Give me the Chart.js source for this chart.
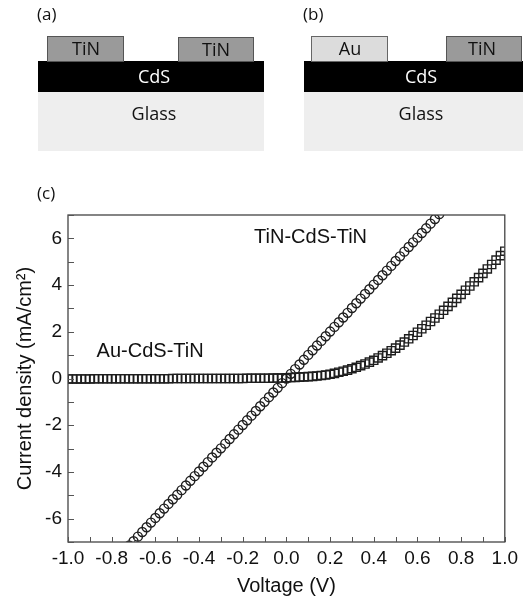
<!DOCTYPE html>
<html>
<head>
<meta charset="utf-8">
<script src="https://cdn.jsdelivr.net/npm/chart.js@4.4.1/dist/chart.umd.min.js"></script>
<style>
  html, body { margin: 0; padding: 0; background: #fff; }
  #wrap { position: relative; width: 523px; height: 602px; overflow: hidden; }
  #myChart { position: absolute; left: 0; top: 0; }
  .lbl { position: absolute; font-family: "Open Sans", sans-serif; font-size: 17px; color: #111; }
  .blk { position: absolute; box-sizing: border-box; }
  .txt { position: absolute; font-family: "Open Sans", sans-serif; font-size: 18px; line-height: 20px;
         transform: translate(-50%, -50%); white-space: nowrap; }
  .tin { background: #9a9a9a; border: 1px solid #555; }
  .au { background: #dcdcdc; border: 1px solid #666; }
  .cds { background: #000; }
  .glass { background: #eeeeee; }
</style>
</head>
<body>
<div id="wrap">
  <canvas id="myChart" width="523" height="602"></canvas>

  <!-- (a) TiN / CdS / TiN -->
  <div class="lbl" style="left:37px; top:2px;">(a)</div>
  <div class="blk glass" style="left:38px; top:92px; width:226px; height:59px;"></div>
  <div class="blk cds" style="left:38px; top:61px; width:226px; height:31px;"></div>
  <div class="blk tin" style="left:47px; top:36px; width:77px; height:26px;"></div>
  <div class="blk tin" style="left:178px; top:37px; width:76px; height:25px;"></div>
  <div class="txt" style="left:86px; top:48px; color:#111;">TiN</div>
  <div class="txt" style="left:216px; top:49px; color:#111;">TiN</div>
  <div class="txt" style="left:154px; top:76px; color:#fff;">CdS</div>
  <div class="txt" style="left:154px; top:113px; color:#111;">Glass</div>

  <!-- (b) Au / CdS / TiN -->
  <div class="lbl" style="left:303px; top:2px;">(b)</div>
  <div class="blk glass" style="left:304px; top:92px; width:230px; height:59px;"></div>
  <div class="blk cds" style="left:304px; top:61px; width:230px; height:31px;"></div>
  <div class="blk au" style="left:311px; top:36px; width:77px; height:26px;"></div>
  <div class="blk tin" style="left:446px; top:36px; width:76px; height:26px;"></div>
  <div class="txt" style="left:350px; top:48px; color:#111;">Au</div>
  <div class="txt" style="left:482px; top:48px; color:#111;">TiN</div>
  <div class="txt" style="left:421px; top:76px; color:#fff;">CdS</div>
  <div class="txt" style="left:421px; top:113px; color:#111;">Glass</div>

  <div class="lbl" style="left:37px; top:181px;">(c)</div>
</div>

<script>
// Dữ liệu: điện áp (V)
var voltage = [
  -1.00, -0.98, -0.96, -0.94, -0.92, -0.90, -0.88, -0.86, -0.84, -0.82,
  -0.80, -0.78, -0.76, -0.74, -0.72, -0.70, -0.68, -0.66, -0.64, -0.62,
  -0.60, -0.58, -0.56, -0.54, -0.52, -0.50, -0.48, -0.46, -0.44, -0.42,
  -0.40, -0.38, -0.36, -0.34, -0.32, -0.30, -0.28, -0.26, -0.24, -0.22,
  -0.20, -0.18, -0.16, -0.14, -0.12, -0.10, -0.08, -0.06, -0.04, -0.02,
  0.00, 0.02, 0.04, 0.06, 0.08, 0.10, 0.12, 0.14, 0.16, 0.18,
  0.20, 0.22, 0.24, 0.26, 0.28, 0.30, 0.32, 0.34, 0.36, 0.38,
  0.40, 0.42, 0.44, 0.46, 0.48, 0.50, 0.52, 0.54, 0.56, 0.58,
  0.60, 0.62, 0.64, 0.66, 0.68, 0.70, 0.72, 0.74, 0.76, 0.78,
  0.80, 0.82, 0.84, 0.86, 0.88, 0.90, 0.92, 0.94, 0.96, 0.98,
  1.00
];

// Mật độ dòng TiN-CdS-TiN (mA/cm2) - vòng tròn
var currentTiN = [
  -9.95, -9.75, -9.55, -9.35, -9.15, -8.96, -8.76, -8.56, -8.36, -8.16,
  -7.96, -7.76, -7.56, -7.36, -7.16, -6.97, -6.77, -6.57, -6.37, -6.17,
  -5.97, -5.77, -5.57, -5.37, -5.17, -4.98, -4.78, -4.58, -4.38, -4.18,
  -3.98, -3.78, -3.58, -3.38, -3.18, -2.99, -2.79, -2.59, -2.39, -2.19,
  -1.99, -1.79, -1.59, -1.39, -1.19, -1.00, -0.80, -0.60, -0.40, -0.20,
  0.00, 0.20, 0.40, 0.60, 0.80, 1.01, 1.21, 1.41, 1.61, 1.81,
  2.01, 2.21, 2.41, 2.61, 2.81, 3.02, 3.22, 3.42, 3.62, 3.82,
  4.02, 4.22, 4.42, 4.62, 4.82, 5.03, 5.23, 5.43, 5.63, 5.83,
  6.03, 6.23, 6.43, 6.63, 6.83, 7.04, 7.24, 7.44, 7.64, 7.84,
  8.04, 8.24, 8.44, 8.64, 8.84, 9.05, 9.25, 9.45, 9.65, 9.85,
  10.05
];

// Mật độ dòng Au-CdS-TiN (mA/cm2) - hình vuông
var currentAu = [
  -0.02, -0.02, -0.02, -0.02, -0.02, -0.02, -0.01, -0.01, -0.01, -0.01,
  -0.01, -0.01, -0.01, -0.01, -0.01, -0.01, -0.01, -0.01, -0.01, -0.01,
  -0.01, -0.01, -0.01, -0.01, 0.00, 0.00, 0.00, 0.00, 0.00, 0.00,
  0.00, 0.00, 0.00, 0.00, 0.00, 0.00, 0.00, 0.00, 0.00, 0.00,
  0.00, 0.01, 0.01, 0.01, 0.01, 0.01, 0.01, 0.02, 0.02, 0.02,
  0.03, 0.04, 0.05, 0.06, 0.07, 0.08, 0.09, 0.11, 0.13, 0.15,
  0.18, 0.22, 0.27, 0.31, 0.36, 0.42, 0.48, 0.55, 0.62, 0.70,
  0.78, 0.88, 0.98, 1.08, 1.19, 1.30, 1.43, 1.56, 1.70, 1.84,
  1.98, 2.13, 2.28, 2.44, 2.59, 2.75, 2.92, 3.09, 3.26, 3.43,
  3.60, 3.78, 3.96, 4.14, 4.32, 4.50, 4.69, 4.88, 5.07, 5.26,
  5.45
];

// Nhãn chú thích trên biểu đồ
var curveLabels = ['TiN-CdS-TiN', 'Au-CdS-TiN'];

var FONT = "'Liberation Sans', Arial, sans-serif";
var INK = '#1e1e1e';

function toPoints(ys) {
  return voltage.map(function (v, i) {
    return { x: v, y: ys[i] };
  });
}

// Plugin: khung, vạch chia hướng vào trong, chữ chú thích
var framePlugin = {
  id: 'frame',
  afterDatasetsDraw: function (chart) {
    var ctx = chart.ctx;
    var a = chart.chartArea;
    var xs = chart.scales.x;
    var ys = chart.scales.y;
    ctx.save();
    ctx.strokeStyle = '#444';
    ctx.lineWidth = 1.3;
    ctx.strokeRect(a.left, a.top, a.right - a.left, a.bottom - a.top);

    ctx.lineWidth = 1;
    ctx.strokeStyle = '#555';
    ctx.beginPath();
    for (var i = -10; i <= 10; i++) {
      var px = Math.round(xs.getPixelForValue(i / 10)) + 0.5;
      ctx.moveTo(px, a.bottom);
      ctx.lineTo(px, a.bottom - 5);
    }
    for (var j = -7; j <= 7; j++) {
      var py = Math.round(ys.getPixelForValue(j)) + 0.5;
      ctx.moveTo(a.left, py);
      ctx.lineTo(a.left + 6, py);
    }
    ctx.stroke();

    ctx.fillStyle = '#111';
    ctx.font = '20px ' + FONT;
    ctx.textAlign = 'left';
    ctx.textBaseline = 'middle';
    ctx.fillText(curveLabels[0], xs.getPixelForValue(-0.148), ys.getPixelForValue(6.03));
    ctx.fillText(curveLabels[1], xs.getPixelForValue(-0.869), ys.getPixelForValue(1.17));
    ctx.restore();
  }
};

var ctx = document.getElementById('myChart').getContext('2d');
var myChart = new Chart(ctx, {
  type: 'scatter',
  data: {
    datasets: [{
      label: curveLabels[0],
      data: toPoints(currentTiN),
      pointStyle: 'circle',
      pointRadius: 4.5,
      pointBorderWidth: 1.4,
      pointBorderColor: INK,
      pointBackgroundColor: 'rgba(255,255,255,0)',
      showLine: false
    }, {
      label: curveLabels[1],
      data: toPoints(currentAu),
      pointStyle: 'rect',
      pointRadius: 5.8,
      pointBorderWidth: 1.4,
      pointBorderColor: INK,
      pointBackgroundColor: 'rgba(255,255,255,0)',
      showLine: false
    }]
  },
  options: {
    responsive: false,
    animation: false,
    events: [],
    layout: {
      padding: { top: 215, right: 16, left: 0, bottom: 0 }
    },
    scales: {
      x: {
        type: 'linear',
        min: -1,
        max: 1,
        afterFit: function (s) { s.height = 60; },
        grid: { display: false, drawTicks: false },
        border: { display: false },
        ticks: {
          stepSize: 0.2,
          padding: 5,
          color: '#111',
          font: { family: FONT, size: 19 },
          callback: function (v) { return v.toFixed(1); }
        },
        title: {
          display: true,
          text: 'Voltage (V)',
          color: '#111',
          font: { family: FONT, size: 20 },
          padding: { top: 0, bottom: 4 }
        }
      },
      y: {
        min: -7,
        max: 7,
        afterFit: function (s) { s.width = 68; },
        grid: { display: false, drawTicks: false },
        border: { display: false },
        ticks: {
          stepSize: 1,
          padding: 6,
          color: '#111',
          font: { family: FONT, size: 19 },
          callback: function (v) { return v % 2 === 0 ? String(v) : null; }
        },
        title: {
          display: true,
          text: 'Current density (mA/cm\u00B2)',
          color: '#111',
          font: { family: FONT, size: 20 },
          padding: { top: 13, bottom: 0 }
        }
      }
    },
    plugins: {
      legend: { display: false },
      tooltip: { enabled: false }
    }
  },
  plugins: [framePlugin]
});
</script>
</body>
</html>
